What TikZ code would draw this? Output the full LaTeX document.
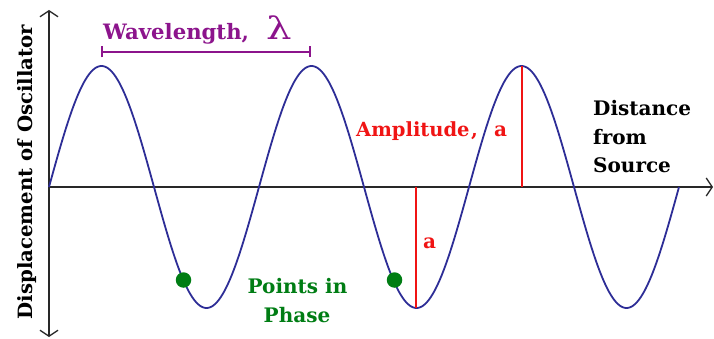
\documentclass[tikz,border=0pt]{standalone}
\usepackage{fontspec}
\setmainfont{DejaVu Serif}
\usetikzlibrary{arrows.meta}
\definecolor{wavecol}{RGB}{45,45,150}
\definecolor{ampcol}{RGB}{240,20,20}
\definecolor{phasecol}{RGB}{0,125,20}
\definecolor{wlcol}{RGB}{140,20,140}
\definecolor{axiscol}{RGB}{40,40,40}
\tikzset{
  lab/.style={font=\fontsize{20}{28.5}\selectfont\bfseries, inner sep=0pt},
  axisline/.style={line width=1.8pt, draw=axiscol},
  barb/.tip={Straight Barb[length=6pt,width=18pt,line width=1.3pt]},
  wavepath/.style={line width=1.8pt, draw=wavecol},
  ampline/.style={line width=2pt, draw=ampcol},
  phasedot/.style={circle, fill=phasecol, minimum size=15.5pt, inner sep=0pt},
}
\begin{document}
\begin{tikzpicture}[x=1pt,y=-1pt]
\useasboundingbox (0,0) rectangle (714,339);
% axes
\coordinate (O) at (49,187);
\coordinate (ytop) at (49,10);
\coordinate (ybot) at (49,337);
\coordinate (xend) at (713,187);
\draw[axisline, barb-barb] (ybot) -- (ytop);
\draw[axisline, -barb] (O) -- (xend);
% wave
\draw[wavepath] plot[domain=49:679, samples=361, smooth] (\x, {187-121*sin((\x-49)*1.7142857)});
% wavelength
\coordinate (wl1) at (101,52);
\coordinate (wl2) at (311,52);
\draw[line width=1.8pt, draw=wlcol, {Bar[width=11pt,line width=1.6pt]}-{Bar[width=11pt,line width=1.6pt]}] (wl1) -- (wl2);
\node[lab, font=\fontsize{21.2}{28}\selectfont\bfseries, text=wlcol, anchor=base west] (wltext) at (103,40) {Wavelength,};
\node[inner sep=0pt, text=wlcol, anchor=base west, font=\fontsize{31}{31}\selectfont] (lambda) at (266,40) {\scalebox{1.3}[1]{λ}};
% amplitude
\coordinate (tr) at (416,187);
\coordinate (trb) at (416,308);
\coordinate (pk) at (521.5,66);
\coordinate (pkb) at (521.5,187);
\draw[ampline] (tr) -- (trb);
\draw[ampline] (pk) -- (pkb);
\node[lab, font=\fontsize{19.5}{28}\selectfont\bfseries, text=ampcol, anchor=base west] (amptext) at (356,137) {Amplitude\kern1.5pt,};
\node[lab, text=ampcol, anchor=base west] (a1) at (494,137) {a};
\node[lab, text=ampcol, anchor=base west] (a2) at (423,248) {a};
% distance label
\node[lab, anchor=base west] (dist1) at (593,116) {Distance};
\node[lab, anchor=base west] (dist2) at (593,145) {from};
\node[lab, anchor=base west] (dist3) at (593,173) {Source};
% points in phase
\node[phasedot] (p1) at (183.5,280) {};
\node[phasedot] (p2) at (394.5,280) {};
\node[lab, text=phasecol, anchor=base] (ph1) at (297.5,293) {Points in};
\node[lab, text=phasecol, anchor=base] (ph2) at (297,322) {Phase};
% vertical label
\node[lab, font=\fontsize{19.7}{28}\selectfont\bfseries, rotate=90, anchor=base] (ylab) at (32,172) {Displacement of Oscillator};
\end{tikzpicture}
\end{document}
